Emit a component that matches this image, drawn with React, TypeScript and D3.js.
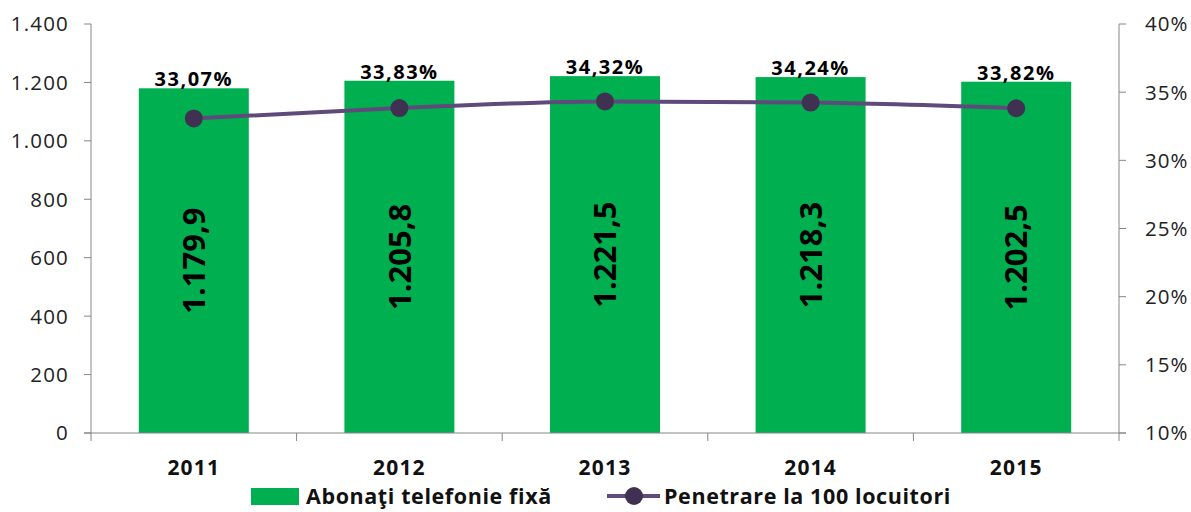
import React from "react";
import * as d3 from "d3";

const years = ["2011", "2012", "2013", "2014", "2015"];
const subscribers = [1179.9, 1205.8, 1221.5, 1218.3, 1202.5];
const penetration = [33.07, 33.83, 34.32, 34.24, 33.82];
const leftTicks = [0, 200, 400, 600, 800, 1000, 1200, 1400];
const rightTicks = [10, 15, 20, 25, 30, 35, 40];
const seriesNames = ["Abonaţi telefonie fixă", "Penetrare la 100 locuitori"];

const W = 1191, H = 512;
const L = 91, R = 1119, T = 24, B = 433;
const GREEN = "#00B050";
const LINE = "#604A7B";
const MARK = "#403152";
const AXIS = "#868686";
const FONT = "'Open Sans', 'Noto Sans', sans-serif";

const fmtThousands = (v: number) => d3.format(",")(v).replace(/,/g, ".");
const fmtVal = (v: number) => {
  const s = v.toFixed(1).split(".");
  return fmtThousands(+s[0]) + "," + s[1];
};
const fmtPct = (v: number) => v.toFixed(2).replace(".", ",") + "%";

export default function App() {
  const x = d3.scaleBand().domain(years).range([L, R]).paddingInner(0.465).paddingOuter(0.2325);
  const xc = (d: string) => (x(d) as number) + x.bandwidth() / 2;
  const yL = d3.scaleLinear().domain([0, 1400]).range([B, T]);
  const yR = d3.scaleLinear().domain([10, 40]).range([B, T]);
  const line = d3.line<number>().x((_, i) => xc(years[i])).y((d) => yR(d)).curve(d3.curveMonotoneX);
  const step = (R - L) / years.length;
  const legY = 496;

  return (
    <svg width={W} height={H} style={{ position: "absolute", left: 0, top: 0, background: "#fff" }} fontFamily={FONT}>
      {subscribers.map((v, i) => (
        <rect key={i} x={x(years[i])} y={yL(v)} width={x.bandwidth()} height={B - yL(v)} fill={GREEN} />
      ))}
      <line x1={L} x2={L} y1={T} y2={B} stroke={AXIS} strokeWidth={1} />
      {leftTicks.map((t) => (
        <g key={t}>
          <line x1={L - 7} x2={L} y1={yL(t)} y2={yL(t)} stroke={AXIS} />
          <text x={L - 22} y={yL(t)} dy="0.36em" textAnchor="end" fontSize={20.5} letterSpacing={1.2} fill="#222">{fmtThousands(t)}</text>
        </g>
      ))}
      <line x1={R} x2={R} y1={T} y2={B} stroke={AXIS} strokeWidth={1} />
      {rightTicks.map((t) => (
        <g key={t}>
          <line x1={R} x2={R + 7} y1={yR(t)} y2={yR(t)} stroke={AXIS} />
          <text x={R + 26} y={yR(t)} dy="0.36em" textAnchor="start" fontSize={20.5} letterSpacing={1} fill="#222">{t + "%"}</text>
        </g>
      ))}
      <line x1={L - 7} x2={R + 7} y1={B} y2={B} stroke={AXIS} />
      {d3.range(years.length + 1).map((i) => (
        <line key={i} x1={L + i * step} x2={L + i * step} y1={B} y2={B + 8} stroke={AXIS} />
      ))}
      {years.map((y) => (
        <text key={y} x={xc(y)} y={467} dy="0.36em" textAnchor="middle" fontSize={21} fontWeight="bold" letterSpacing={1.2} fill="#111">{y}</text>
      ))}
      {subscribers.map((v, i) => {
        const cx = xc(years[i]);
        const cy = (yL(v) + B) / 2;
        return (
          <text key={i} transform={`translate(${cx},${cy}) rotate(-90)`} textAnchor="middle" dy="0.36em" fontSize={31} fontWeight="bold" fill="#000">{fmtVal(v)}</text>
        );
      })}
      <path d={line(penetration) || ""} fill="none" stroke={LINE} strokeWidth={4} />
      {penetration.map((p, i) => (
        <circle key={i} cx={xc(years[i])} cy={yR(p)} r={9} fill={MARK} />
      ))}
      {penetration.map((p, i) => (
        <text key={i} x={xc(years[i])} y={yL(subscribers[i]) - 2} textAnchor="middle" fontSize={20} fontWeight="bold" letterSpacing={1.5} fill="#000">{fmtPct(p)}</text>
      ))}
      <rect x={251} y={legY - 8} width={48} height={17} fill={GREEN} />
      <text x={306} y={legY} dy="0.36em" fontSize={21.5} fontWeight="bold" letterSpacing={0.6} fill="#111">{seriesNames[0]}</text>
      <line x1={607} x2={660} y1={legY} y2={legY} stroke={LINE} strokeWidth={4} />
      <circle cx={634} cy={legY} r={9} fill={MARK} />
      <text x={664} y={legY} dy="0.36em" fontSize={21.5} fontWeight="bold" letterSpacing={0.6} fill="#111">{seriesNames[1]}</text>
    </svg>
  );
}
